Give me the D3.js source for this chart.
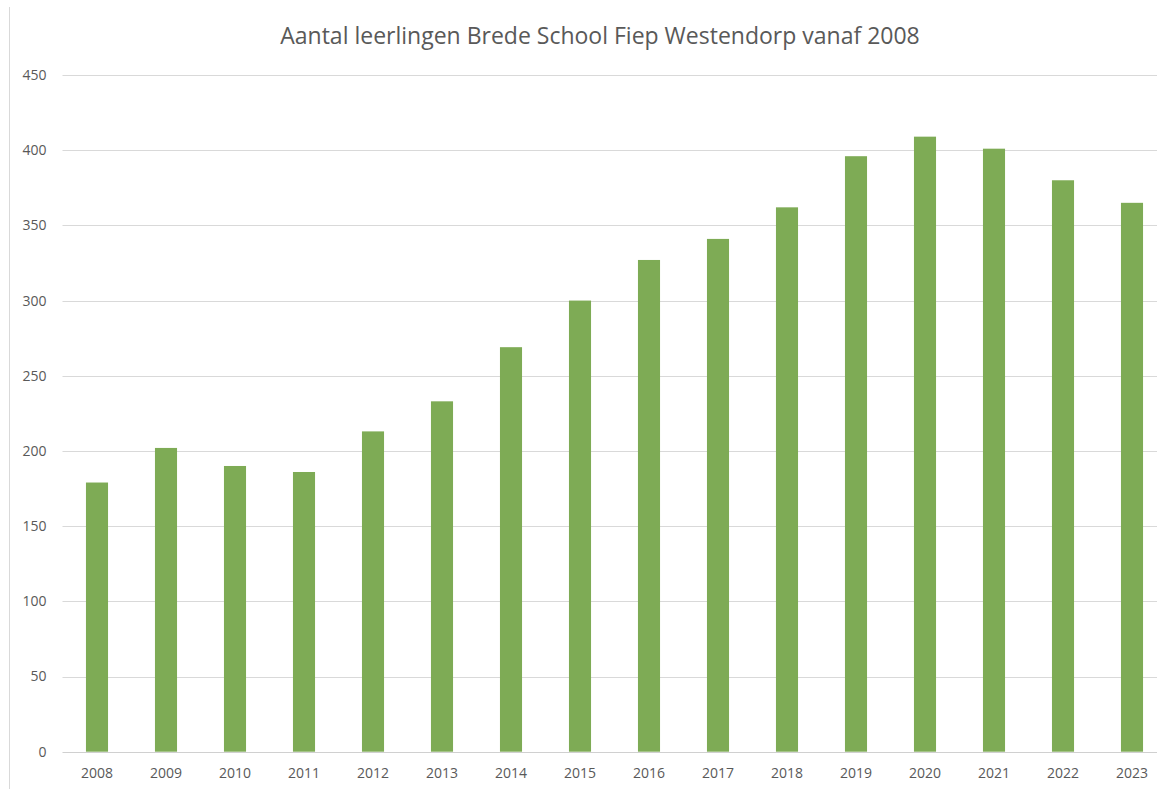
<!DOCTYPE html>
<html>
<head>
<meta charset="utf-8">
<script src="https://cdn.jsdelivr.net/npm/d3@7"></script>
<style>
  html, body { margin: 0; padding: 0; background: #ffffff; }
  svg { display: block; }
</style>
</head>
<body>
<svg id="chart" width="1157" height="789"></svg>
<script>
const years = ["2008","2009","2010","2011","2012","2013","2014","2015","2016","2017","2018","2019","2020","2021","2022","2023"];
const pupils = [179, 202, 190, 186, 213, 233, 269, 300, 327, 341, 362, 396, 409, 401, 380, 365];
const yTicks = [0, 50, 100, 150, 200, 250, 300, 350, 400, 450];
const titleText = "Aantal leerlingen Brede School Fiep Westendorp vanaf 2008";

const svg = d3.select("#chart");
const W = 1157, H = 789;
const margin = { left: 62.5, right: -9.5, top: 75, bottom: 37.3 };
const plotW = W - margin.left - margin.right;
const plotH = H - margin.top - margin.bottom;

// chart border (left edge visible)
svg.append("line")
  .attr("x1", 9.5).attr("x2", 9.5).attr("y1", 7).attr("y2", H)
  .attr("stroke", "#d9d9d9").attr("stroke-width", 1);

const x = d3.scaleBand().domain(years).range([margin.left, margin.left + plotW])
  .paddingInner(0.68).paddingOuter(0.34);
const y = d3.scaleLinear().domain([0, 450]).range([margin.top + plotH, margin.top]);

// gridlines
svg.append("g").selectAll("line").data(yTicks.filter(d => d > 0)).join("line")
  .attr("x1", margin.left).attr("x2", W)
  .attr("y1", d => Math.round(y(d)) + 0.5).attr("y2", d => Math.round(y(d)) + 0.5)
  .attr("stroke", "#d9d9d9").attr("stroke-width", 1.2);

// bars
svg.append("g").selectAll("rect").data(pupils).join("rect")
  .attr("x", (d, i) => x(years[i]))
  .attr("width", x.bandwidth())
  .attr("y", d => y(d))
  .attr("height", d => y(0) - y(d))
  .attr("fill", "#7eab55");

// baseline axis
svg.append("line")
  .attr("x1", margin.left).attr("x2", W)
  .attr("y1", Math.round(y(0)) + 0.5).attr("y2", Math.round(y(0)) + 0.5)
  .attr("stroke", "#d0d0d0").attr("stroke-width", 1.2);

// y axis labels
const yAxis = d3.axisLeft(y).tickValues(yTicks).tickSize(0).tickPadding(16);
const gy = svg.append("g").attr("transform", `translate(${margin.left},0)`).call(yAxis);
gy.select(".domain").remove();
gy.selectAll("text")
  .attr("font-family", "'Open Sans', sans-serif").attr("font-size", 14)
  .attr("fill", "#595959");

// x axis labels
const xAxis = d3.axisBottom(x).tickSize(0).tickPadding(16);
const gx = svg.append("g").attr("transform", `translate(0,${y(0)})`).call(xAxis);
gx.select(".domain").remove();
gx.selectAll("text")
  .attr("font-family", "'Open Sans', sans-serif").attr("font-size", 14)
  .attr("fill", "#595959");

// title
svg.append("text")
  .attr("x", 600).attr("y", 44)
  .attr("text-anchor", "middle")
  .attr("font-family", "'Open Sans', sans-serif").attr("font-size", 23)
  .attr("fill", "#595959")
  .text(titleText);
</script>
</body>
</html>
